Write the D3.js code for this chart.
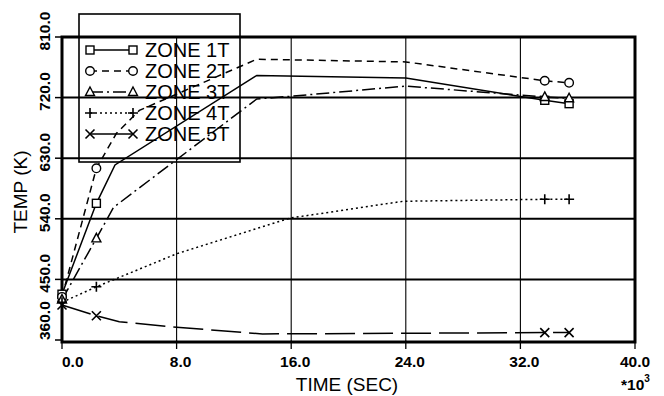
<!DOCTYPE html>
<html><head><meta charset="utf-8">
<script src="https://cdn.jsdelivr.net/npm/d3@7/dist/d3.min.js"></script>
<style>
html,body{margin:0;padding:0;background:#fff;}
svg{display:block;}
text{font-family:"Liberation Sans",Arial,sans-serif;fill:#000;}
</style></head>
<body>
<svg id="c" width="664" height="396"></svg>
<script>
// ---- data ----
const xTicks = [0, 8, 16, 24, 32, 40];
const xTickLabels = ["0.0", "8.0", "16.0", "24.0", "32.0", "40.0"];
const yTicks = [360, 450, 540, 630, 720, 810];
const yTickLabels = ["360.0", "450.0", "540.0", "630.0", "720.0", "810.0"];
const seriesNames = ["ZONE 1T", "ZONE 2T", "ZONE 3T", "ZONE 4T", "ZONE 5T"];
const markerTimes = [0, 2.4, 33.7, 35.4];

const zone1Times = [0, 2.4, 3.7, 13.6, 24.0, 33.7, 35.4];
const zone1Temps = [428, 563, 620, 753, 749, 716, 711];
const zone2Times = [0, 2.4, 3.8, 5.4, 13.6, 24.0, 33.7, 35.4];
const zone2Temps = [424, 615, 667, 701, 777, 773, 745, 742];
const zone3Times = [0, 2.4, 3.6, 13.6, 16.0, 24.0, 33.7, 35.4];
const zone3Temps = [420, 511, 557, 718, 722, 737, 721, 719];
const zone4Times = [0, 2.4, 8.0, 15.9, 23.8, 33.7, 35.4];
const zone4Temps = [416, 439, 488, 541, 566, 569, 569];
const zone5Times = [0, 2.4, 4.0, 8.0, 14.0, 24.0, 33.7, 35.4];
const zone5Temps = [412, 396, 387, 379, 369, 370, 371, 371];

const seriesTimes = [zone1Times, zone2Times, zone3Times, zone4Times, zone5Times];
const seriesTemps = [zone1Temps, zone2Temps, zone3Temps, zone4Temps, zone5Temps];

// ---- styles ----
const dashes = [null, "7,5", "13,4,2,4", "2,3", "30,8"];
const markerTypes = ["square", "circle", "triangle", "plus", "cross"];

const svg = d3.select("#c");
const L = 62, R = 635, T = 37, B = 340;
const x = d3.scaleLinear().domain([0, 40]).range([L, R]);
const y = d3.scaleLinear().domain([360, 810]).range([B, T]);

// grid
svg.append("g").selectAll("line").data(xTicks.slice(1, -1)).join("line")
  .attr("x1", d => x(d)).attr("x2", d => x(d)).attr("y1", T).attr("y2", B)
  .attr("stroke", "#000").attr("stroke-width", 1.1);
svg.append("g").selectAll("line").data(yTicks.slice(1, -1)).join("line")
  .attr("x1", L).attr("x2", R).attr("y1", d => y(d)).attr("y2", d => y(d))
  .attr("stroke", "#000").attr("stroke-width", 2);

// ticks
svg.append("g").selectAll("line").data(yTicks).join("line")
  .attr("x1", L - 7).attr("x2", L).attr("y1", d => y(d)).attr("y2", d => y(d))
  .attr("stroke", "#000").attr("stroke-width", 1.5);
svg.append("g").selectAll("line").data(xTicks).join("line")
  .attr("x1", d => x(d)).attr("x2", d => x(d)).attr("y1", B).attr("y2", B + 9)
  .attr("stroke", "#000").attr("stroke-width", 1.3);

// frame
svg.append("rect").attr("x", L).attr("y", T).attr("width", R - L).attr("height", B - T + 2)
  .attr("fill", "none").attr("stroke", "#000").attr("stroke-width", 3);

// tick labels
svg.append("g").selectAll("text").data(xTicks).join("text")
  .attr("x", (d, i) => i === 0 ? x(d) : (i === xTicks.length - 1 ? x(d) : x(d) + 4))
  .attr("y", 367)
  .attr("text-anchor", (d, i) => i === 0 ? "start" : "middle")
  .attr("font-size", 15.5).attr("font-weight", "bold")
  .text((d, i) => xTickLabels[i]);
svg.append("g").selectAll("text").data(yTicks).join("text")
  .attr("transform", (d, i) => `translate(50,${i === 0 ? y(d) : y(d) - 6}) rotate(-90)`)
  .attr("text-anchor", (d, i) => i === 0 ? "start" : "middle")
  .attr("font-size", 15.5).attr("font-weight", "bold")
  .text((d, i) => yTickLabels[i]);

// axis titles
svg.append("text").attr("x", 347).attr("y", 391).attr("text-anchor", "middle")
  .attr("font-size", 19).text("TIME (SEC)");
svg.append("text").attr("transform", "translate(27,192) rotate(-90)").attr("text-anchor", "middle")
  .attr("font-size", 19).text("TEMP (K)");
const mult = svg.append("text").attr("x", 621).attr("y", 390).attr("font-size", 15.5).attr("font-weight", "bold");
mult.append("tspan").text("*10");
mult.append("tspan").attr("dy", -8).attr("font-size", 10).text("3");

// marker drawer
function drawMarker(g, type, cx, cy) {
  const s = 4;
  if (type === "square") {
    g.append("rect").attr("x", cx - s).attr("y", cy - s).attr("width", 2 * s).attr("height", 2 * s)
      .attr("fill", "#fff").attr("stroke", "#000").attr("stroke-width", 1.4);
  } else if (type === "circle") {
    g.append("circle").attr("cx", cx).attr("cy", cy).attr("r", 4.3)
      .attr("fill", "#fff").attr("stroke", "#000").attr("stroke-width", 1.4);
  } else if (type === "triangle") {
    g.append("path").attr("d", `M${cx},${cy - 5}L${cx + 4.5},${cy + 3.5}L${cx - 4.5},${cy + 3.5}Z`)
      .attr("fill", "#fff").attr("stroke", "#000").attr("stroke-width", 1.4);
  } else if (type === "plus") {
    g.append("path").attr("d", `M${cx - 5},${cy}H${cx + 5}M${cx},${cy - 5}V${cx > 0 ? cy + 5 : cy + 5}`)
      .attr("stroke", "#000").attr("stroke-width", 1.6).attr("fill", "none");
  } else {
    g.append("path").attr("d", `M${cx - 4.5},${cy - 4.5}L${cx + 4.5},${cy + 4.5}M${cx + 4.5},${cy - 4.5}L${cx - 4.5},${cy + 4.5}`)
      .attr("stroke", "#000").attr("stroke-width", 1.6).attr("fill", "none");
  }
}

// series
const line = d3.line().x(d => x(d[0])).y(d => y(d[1]));
seriesNames.forEach((name, i) => {
  const pts = seriesTimes[i].map((t, j) => [t, seriesTemps[i][j]]);
  svg.append("path").datum(pts).attr("d", line)
    .attr("fill", "none").attr("stroke", "#000").attr("stroke-width", 1.5)
    .attr("stroke-dasharray", dashes[i]);
});
seriesNames.forEach((name, i) => {
  const g = svg.append("g");
  seriesTimes[i].forEach((t, j) => {
    if (markerTimes.includes(t)) drawMarker(g, markerTypes[i], x(t), y(seriesTemps[i][j]));
  });
});

// legend
svg.append("rect").attr("x", 79).attr("y", 14).attr("width", 161).attr("height", 148)
  .attr("fill", "none").attr("stroke", "#000").attr("stroke-width", 1.6);
seriesNames.forEach((name, i) => {
  const ly = 50 + i * 21;
  const g = svg.append("g");
  g.append("line").attr("x1", 90).attr("x2", 133).attr("y1", ly).attr("y2", ly)
    .attr("stroke", "#000").attr("stroke-width", 1.4).attr("stroke-dasharray", dashes[i] && i === 4 ? null : dashes[i]);
  drawMarker(g, markerTypes[i], 90, ly);
  drawMarker(g, markerTypes[i], 133, ly);
  g.append("text").attr("x", 145).attr("y", ly + 7).attr("font-size", 20).text(name);
});
</script>
</body></html>
